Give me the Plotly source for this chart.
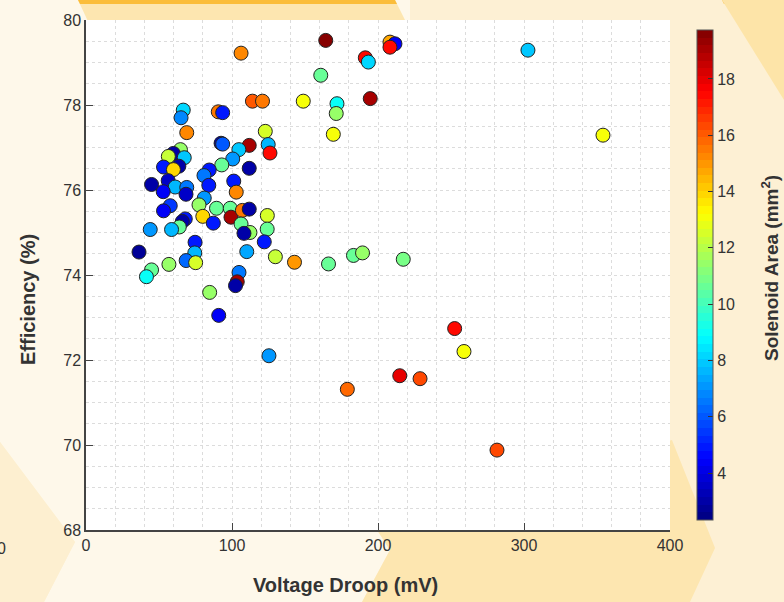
import plotly.graph_objects as go

# ---- data ----
voltage_droop_mv = [164.2, 208.2, 211.6, 208.2, 191.3, 193.4, 302.7, 160.8, 106.2, 194.7,
                    148.8, 171.9, 171.4, 169.4, 114.0, 120.9, 66.6, 65.1, 90.6, 93.6,
                    69.0, 122.8, 124.8, 126.0, 111.8, 92.5, 93.6, 104.7, 100.5, 93.0,
                    111.8, 64.7, 59.8, 56.4, 67.3, 63.6, 53.1, 59.9, 44.9, 56.3,
                    61.1, 69.0, 68.5, 52.9, 84.4, 80.8, 84.1, 101.2, 102.9, 81.0,
                    57.7, 53.1, 77.4, 80.0, 87.2, 89.4, 98.8, 99.3, 107.1, 111.8,
                    106.2, 112.3, 108.2, 124.2, 124.1, 122.1, 68.0, 66.0, 63.9, 58.6,
                    44.0, 74.7, 74.5, 68.6, 75.1, 36.3, 56.8, 44.9, 41.4, 110.1,
                    129.7, 142.8, 166.1, 183.2, 189.4, 217.3, 104.8, 103.6, 102.4, 84.7,
                    90.9, 125.3, 252.5, 258.9, 214.9, 228.8, 179.0, 281.5, 354.1]
efficiency_pct = [79.52, 79.48, 79.44, 79.36, 79.11, 79.01, 79.29, 78.70, 79.22, 78.15,
                  78.09, 78.03, 77.80, 77.31, 78.09, 78.09, 77.88, 77.70, 77.84, 77.82,
                  77.35, 77.38, 77.07, 76.87, 77.05, 77.10, 77.08, 76.95, 76.73, 76.59,
                  76.51, 76.95, 76.86, 76.79, 76.76, 76.56, 76.54, 76.48, 76.13, 76.22,
                  76.07, 76.06, 75.90, 75.96, 76.47, 76.34, 76.11, 76.21, 75.95, 75.81,
                  75.63, 75.51, 75.65, 75.38, 75.22, 75.57, 75.57, 75.36, 75.52, 75.55,
                  75.20, 75.00, 74.98, 75.40, 75.08, 74.78, 75.32, 75.26, 75.13, 75.07,
                  75.07, 74.77, 74.52, 74.34, 74.29, 74.54, 74.25, 74.12, 73.96, 74.55,
                  74.43, 74.30, 74.26, 74.46, 74.52, 74.37, 74.06, 73.84, 73.75, 73.59,
                  73.05, 72.10, 72.74, 72.20, 71.63, 71.56, 71.31, 69.88, 77.29]
solenoid_area_mm2 = [19.5, 14.8, 4.5, 17.5, 17.5, 8.2, 8.0, 10.6, 15.2, 19.0,
                     13.2, 8.9, 11.5, 13.2, 16.0, 15.4, 8.3, 6.8, 15.4, 5.0,
                     15.2, 12.4, 7.6, 17.3, 19.0, 3.0, 6.0, 8.0, 7.2, 10.5,
                     3.0, 11.5, 3.0, 12.3, 8.0, 3.0, 5.0, 13.8, 3.0, 3.5,
                     7.6, 6.6, 3.5, 4.5, 5.0, 6.6, 5.0, 5.0, 15.2, 7.2,
                     5.5, 4.5, 11.5, 14.0, 5.0, 10.5, 10.5, 19.0, 15.6, 3.0,
                     10.5, 11.5, 3.0, 12.6, 10.5, 5.0, 5.0, 3.0, 10.5, 7.6,
                     7.2, 5.0, 7.6, 6.2, 12.6, 2.8, 11.5, 10.5, 9.0, 7.4,
                     12.3, 15.0, 10.5, 10.5, 11.5, 10.8, 6.6, 19.0, 3.0, 11.5,
                     4.5, 7.1, 17.4, 13.2, 18.0, 16.4, 15.9, 16.4, 13.2]

x_ticks = [0, 100, 200, 300, 400]
y_ticks = [68, 70, 72, 74, 76, 78, 80]
cbar_ticks = [4, 6, 8, 10, 12, 14, 16, 18]
c_min, c_max = 2.33, 19.74

x_title = "Voltage Droop (mV)"
y_title = "Efficiency (%)"
c_title = "Solenoid Area (mm<sup>2</sup>)"

# ---- MATLAB-like jet colormap (64 discrete levels) ----
def jet(t):
    def ch(v):
        return max(0.0, min(1.0, v))
    r = ch(1.5 - abs(4 * t - 3))
    g = ch(1.5 - abs(4 * t - 2))
    b = ch(1.5 - abs(4 * t - 1))
    return f"rgb({round(r*255)},{round(g*255)},{round(b*255)})"

N = 64
colorscale = []
for i in range(N):
    col = jet((i + 0.5) / N)
    colorscale.append([i / N, col])
    colorscale.append([(i + 1) / N, col])

# ---- layout geometry (pixels) ----
W, H = 784, 602
L, R, T, B = 86, 670, 20, 530
pw, ph = R - L, B - T

def px(x, y):
    return (x - L) / pw, (B - y) / ph

def poly(points, color):
    pts = [px(x, y) for x, y in points]
    path = "M " + " L ".join(f"{a:.4f},{b:.4f}" for a, b in pts) + " Z"
    return dict(type="path", xref="paper", yref="paper", path=path,
                fillcolor=color, line=dict(width=0), layer="below")

shapes = [
    poly([(0, 0), (410, 0), (410, 30), (377, 530), (390, 550), (362, 602),
          (44, 602), (75, 542), (0, 442)], "#fef8ea"),
    poly([(78, 0), (395, 0), (410, 30), (92, 30)], "#fde6b0"),
    poly([(78, 0), (395, 0), (397, 4), (80, 4)], "#fbbd3a"),
    poly([(722, 0), (784, 0), (784, 4), (724, 4)], "#fbbd3a"),
    poly([(722, 0), (784, 0), (784, 100)], "#fde4a8"),
    poly([(377, 530), (672, 440), (715, 548), (690, 602), (362, 602), (390, 550)], "#fde6b0"),
    poly([(0, 442), (75, 542), (44, 602), (0, 602)], "#fdefd0"),
    dict(type="rect", xref="paper", yref="paper", x0=0, x1=1, y0=0, y1=1,
         fillcolor="white", line=dict(width=0), layer="below"),
]

fig = go.Figure()
fig.add_trace(go.Scatter(
    x=voltage_droop_mv, y=efficiency_pct, mode="markers",
    marker=dict(size=14, color=solenoid_area_mm2, colorscale=colorscale,
                cmin=c_min, cmax=c_max, opacity=1,
                line=dict(color="#222222", width=1),
                colorbar=dict(
                    x=(697 - L) / pw, xanchor="left", xref="paper", xpad=0,
                    y=0.5, yanchor="middle", len=1, lenmode="fraction",
                    thickness=16, thicknessmode="pixels",
                    outlinecolor="#555555", outlinewidth=1,
                    tickvals=cbar_ticks, ticks="inside", ticklen=5,
                    tickcolor="#333333",
                    tickfont=dict(family="Liberation Sans, Arial", size=16, color="#333333"),
                )),
    showlegend=False, hoverinfo="skip",
))

grid = "#dcdcdc"
title_font = dict(family="Liberation Sans, Arial", size=20, color="#333333")
fig.update_layout(
    width=W, height=H,
    margin=dict(l=L, r=W - R, t=T, b=H - B, pad=0, autoexpand=False),
    paper_bgcolor="#fdf0d4", plot_bgcolor="white",
    shapes=shapes,
    font=dict(family="Liberation Sans, Arial", color="#333333"),
    xaxis=dict(range=[0, 400], tickvals=x_ticks, showgrid=True, gridcolor=grid,
               griddash="dot", gridwidth=1, zeroline=False, automargin=False,
               showline=True, linecolor="#444444", linewidth=1.5,
               ticks="inside", ticklen=7, tickcolor="#444444",
               tickfont=dict(size=16, color="#333333"),
               minor=dict(dtick=20, tick0=0, showgrid=True, gridcolor=grid,
                          griddash="dot", gridwidth=1, ticks="")),
    yaxis=dict(range=[68, 80], tickvals=y_ticks, showgrid=True, gridcolor=grid,
               griddash="dot", gridwidth=1, zeroline=False, automargin=False,
               showline=True, linecolor="#444444", linewidth=1.5,
               ticks="inside", ticklen=7, tickcolor="#444444",
               tickfont=dict(size=16, color="#333333"),
               minor=dict(dtick=0.5, tick0=68, showgrid=True, gridcolor=grid,
                          griddash="dot", gridwidth=1, ticks="")),
    annotations=[
        dict(text="0", xref="paper", yref="paper",
             x=px(1, 0)[0], y=px(0, 548)[1], xanchor="center",
             yanchor="middle", showarrow=False,
             font=dict(size=16, color="#333333")),
        dict(text=f"<b>{x_title}</b>", xref="paper", yref="paper",
             x=px(345, 0)[0], y=px(0, 585)[1], xanchor="center", yanchor="middle",
             showarrow=False, font=title_font),
        dict(text=f"<b>{y_title}</b>", xref="paper", yref="paper", textangle=-90,
             x=px(28, 0)[0], y=px(0, 300)[1], xanchor="center", yanchor="middle",
             showarrow=False, font=title_font),
        dict(text=f"<b>{c_title}</b>", xref="paper", yref="paper", textangle=-90,
             x=px(770, 0)[0], y=px(0, 268)[1], xanchor="center", yanchor="middle",
             showarrow=False,
             font=dict(family="Liberation Sans, Arial", size=19, color="#333333")),
    ],
)

fig.write_html("out.html")
